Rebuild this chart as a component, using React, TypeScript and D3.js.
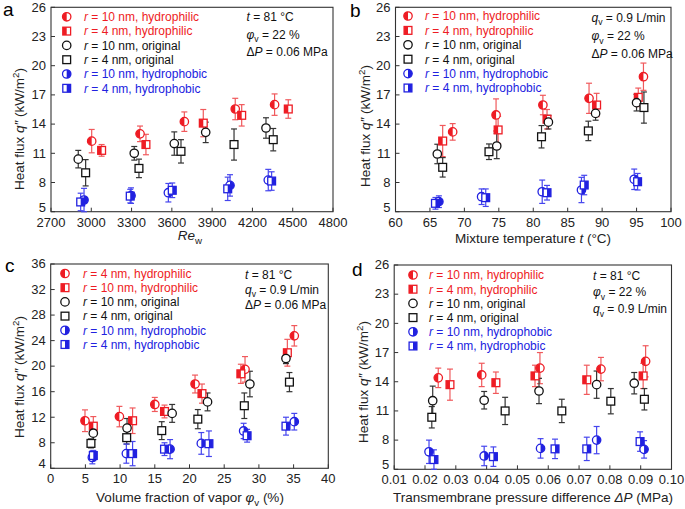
import React from "react";
import * as d3 from "d3";

// ---------- data: [x, y, errorHalfWidth] ----------
// panel a (x = Re_w)
const aR10Phil = [[3003, 12.25, 1.2], [3363, 13.0, 0.8], [3693, 14.25, 1.0], [4072, 15.55, 1.1], [4365, 16.0, 1.1]];
const aR4Phil = [[3077, 11.3, 0.6], [3407, 11.9, 1.05], [3834, 14.1, 1.4], [4120, 14.9, 1.1], [4467, 15.55, 0.95]];
const aR10Orig = [[2903, 10.4, 0.9], [3320, 11.0, 0.7], [3618, 12.0, 1.2], [3852, 13.15, 1.05], [4301, 13.6, 1.05]];
const aR4Orig = [[2958, 9.0, 1.35], [3355, 9.45, 0.95], [3668, 11.2, 1.2], [4063, 11.9, 1.6], [4355, 12.4, 1.15]];
const aR10Phob = [[2946, 6.2, 1.2], [3296, 6.65, 0.8], [3574, 6.95, 0.95], [4033, 7.7, 1.1], [4318, 8.25, 1.1]];
const aR4Phob = [[2921, 6.0, 0.9], [3290, 6.6, 0.7], [3603, 7.2, 0.75], [4016, 7.35, 1.2], [4343, 8.15, 0.95]];

// panel b (x = mixture temperature)
const bR10Phil = [[68.3, 13.2, 0.85], [74.6, 14.94, 1.65], [81.4, 15.96, 1.0], [88.1, 16.65, 1.55], [96.0, 18.87, 1.4]];
const bR4Phil = [[66.85, 12.26, 1.6], [74.9, 13.4, 1.4], [82.0, 14.5, 1.0], [89.2, 15.96, 1.2], [95.25, 16.75, 0.95]];
const bR10Orig = [[66.07, 10.93, 1.0], [74.7, 11.75, 1.3], [82.2, 14.2, 0.7], [89.05, 15.1, 0.7], [95.0, 16.2, 0.85]];
const bR4Orig = [[66.85, 9.56, 1.0], [73.57, 11.16, 0.8], [81.2, 12.7, 1.15], [88.0, 13.3, 1.0], [96.07, 15.7, 1.6]];
const bR10Phob = [[66.3, 6.03, 0.6], [72.5, 6.54, 0.8], [81.3, 7.05, 1.2], [87.0, 7.23, 1.3], [94.66, 8.33, 1.05]];
const bR4Phob = [[65.8, 5.86, 0.6], [73.1, 6.44, 0.9], [82.0, 6.95, 0.75], [87.4, 7.74, 1.0], [95.15, 8.08, 0.85]];

// panel c (x = volume fraction of vapor)
const cR4Phil = [[4.94, 11.45, 1.7], [9.9, 12.1, 1.6], [15.0, 14.0, 1.1], [20.8, 17.2, 1.4], [28.0, 19.5, 2.0], [35.1, 24.75, 1.6]];
const cR10Phil = [[6.14, 10.6, 1.5], [11.8, 11.45, 2.0], [16.4, 12.9, 1.0], [21.8, 15.7, 1.5], [27.4, 18.8, 1.5], [34.1, 22.1, 2.1]];
const cR10Orig = [[6.14, 9.5, 1.0], [11.0, 10.3, 1.5], [17.5, 12.6, 1.4], [22.6, 14.4, 1.4], [28.7, 17.2, 2.0], [33.9, 21.2, 0.8]];
const cR4Orig = [[5.8, 7.9, 0.7], [10.95, 8.8, 1.0], [16.0, 9.9, 1.4], [21.2, 11.7, 1.5], [27.9, 13.8, 2.0], [34.4, 17.5, 1.5]];
const cR10Phob = [[6.0, 5.7, 1.0], [10.9, 6.3, 1.5], [17.2, 7.0, 1.5], [21.7, 7.9, 1.7], [27.8, 9.85, 1.2], [35.1, 11.3, 1.3]];
const cR4Phob = [[6.14, 6.0, 0.8], [11.8, 6.3, 1.9], [16.4, 7.0, 1.0], [22.8, 7.85, 2.0], [28.3, 9.1, 1.0], [33.9, 10.6, 1.4]];

// panel d (x = transmembrane pressure difference)
const dR10Phil = [[0.0243, 14.4, 1.0], [0.0384, 14.7, 1.2], [0.0573, 15.4, 1.6], [0.0771, 15.3, 1.2], [0.0916, 16.1, 1.6]];
const dR4Phil = [[0.0281, 13.7, 1.6], [0.0430, 13.9, 1.1], [0.0557, 14.6, 1.1], [0.0725, 14.2, 1.5], [0.0908, 14.6, 1.3]];
const dR10Orig = [[0.0225, 12.05, 1.5], [0.0392, 12.1, 0.9], [0.0570, 13.05, 1.3], [0.0757, 13.7, 1.4], [0.0879, 13.85, 1.1]];
const dR4Orig = [[0.0222, 10.35, 1.1], [0.0460, 11.0, 1.4], [0.0644, 11.0, 1.2], [0.0803, 12.0, 1.3], [0.0912, 12.2, 1.1]];
const dR10Phob = [[0.0213, 6.8, 1.2], [0.0392, 6.37, 1.0], [0.0575, 7.15, 1.0], [0.0757, 8.0, 1.4], [0.0911, 7.05, 0.9]];
const dR4Phob = [[0.0229, 6.0, 1.0], [0.0422, 6.3, 1.0], [0.0622, 7.1, 1.0], [0.0725, 7.1, 1.2], [0.0898, 7.85, 1.0]];

// ticks
const aXTicks = [2700, 3000, 3300, 3600, 3900, 4200, 4500, 4800];
const bXTicks = [60, 65, 70, 75, 80, 85, 90, 95, 100];
const cXTicks = [0, 5, 10, 15, 20, 25, 30, 35, 40];
const dXTicks = [0.01, 0.02, 0.03, 0.04, 0.05, 0.06, 0.07, 0.08, 0.09, 0.1];
const qYTicks = [5, 8, 11, 14, 17, 20, 23, 26];
const cYTicks = [4, 8, 12, 16, 20, 24, 28, 32, 36];

// ---------- styles ----------
const FONT = "'Liberation Sans', Arial, Helvetica, sans-serif";
const RED = "#ee1c24";
const RED_BAR = "#f0595c";
const BLUE = "#2121e0";
const BLUE_BAR = "#4545ee";
const BLACK = "#111";
const BLACK_BAR = "#333";

type Seg = [string, string?];

function Rich({ segs, ...props }: any) {
  let shift = 0;
  const out = segs.map((s: Seg, k: number) => {
    const [t, st] = s;
    const target = st === "sub" ? 3.5 : st === "sup" ? -5 : 0;
    const dy = target - shift;
    shift = target;
    return (
      <tspan
        key={k}
        dy={dy !== 0 ? dy : undefined}
        fontStyle={st === "i" ? "italic" : undefined}
        fontSize={st === "sub" || st === "sup" ? "0.72em" : undefined}
      >
        {t}
      </tspan>
    );
  });
  return <text {...props}>{out}</text>;
}

function Marker({ shape, color, half, x, y }: any) {
  const r = 4.2;
  const s = 3.9;
  if (shape === "circle") {
    const d =
      half === "left"
        ? `M${x},${y - r} A${r},${r} 0 0 0 ${x},${y + r} Z`
        : `M${x},${y - r} A${r},${r} 0 0 1 ${x},${y + r} Z`;
    return (
      <g>
        <circle cx={x} cy={y} r={r} fill="white" stroke={color} strokeWidth={1.3} />
        {half !== "none" && <path d={d} fill={color} />}
      </g>
    );
  }
  const hx = half === "left" ? x - s : x;
  return (
    <g>
      <rect x={x - s} y={y - s} width={2 * s} height={2 * s} fill="white" stroke={color} strokeWidth={1.3} />
      {half !== "none" && <rect x={hx} y={y - s} width={s} height={2 * s} fill={color} />}
    </g>
  );
}

const rLabel = (size: string, kind: string): Seg[] => [["r", "i"], [` = ${size} nm, ${kind}`]];

const yTitleSegs: Seg[] = [["Heat flux "], ["q", "i"], ["\u2033", "i"], [" (kW/m"], ["2", "sup"], [")"]];
const phiV: Seg[] = [["\u03c6", "i"], ["v", "sub"], [" = 22 %"]];
const tC: Seg[] = [["t", "i"], [" = 81 \u00b0C"]];
const dP: Seg[] = [["\u0394"], ["P", "i"], [" = 0.06 MPa"]];
const qV: Seg[] = [["q", "i"], ["v", "sub"], [" = 0.9 L/min"]];

const mk = (data: number[][], shape: string, color: string, bar: string, half: string, label: Seg[]) => ({
  data, shape, color, bar, half, label,
});

const panels = [
  {
    letter: "a", lx: 3, ly: 16,
    xDomain: [2700, 4800], xr: [51, 333], yDomain: [5, 26], yr: [211.7, 7.3],
    xTicks: aXTicks, yTicks: qYTicks, fmt: d3.format("d"),
    xTitle: [["Re", "i"], ["w", "sub"]] as Seg[], xTitleX: 190, xTitleY: 240,
    yTitleX: 24, yTitleY: 129,
    legX: 66.7, legTextX: 84, legY: 16.8, legDy: 14.3,
    condX: 246.5, condY: [21, 38.5, 56], conds: [tC, phiV, dP],
    series: [
      mk(aR10Phil, "circle", RED, RED_BAR, "left", rLabel("10", "hydrophilic")),
      mk(aR4Phil, "square", RED, RED_BAR, "left", rLabel("4", "hydrophilic")),
      mk(aR10Orig, "circle", BLACK, BLACK_BAR, "none", rLabel("10", "original")),
      mk(aR4Orig, "square", BLACK, BLACK_BAR, "none", rLabel("4", "original")),
      mk(aR10Phob, "circle", BLUE, BLUE_BAR, "right", rLabel("10", "hydrophobic")),
      mk(aR4Phob, "square", BLUE, BLUE_BAR, "right", rLabel("4", "hydrophobic")),
    ],
  },
  {
    letter: "b", lx: 350, ly: 16.5,
    xDomain: [60, 100], xr: [395.5, 671], yDomain: [5, 26], yr: [211.7, 7.3],
    xTicks: bXTicks, yTicks: qYTicks, fmt: d3.format("d"),
    xTitle: [["Mixture temperature "], ["t", "i"], [" (\u00b0C)"]] as Seg[], xTitleX: 533, xTitleY: 243,
    yTitleX: 370, yTitleY: 126,
    legX: 408, legTextX: 425, legY: 16, legDy: 14.4,
    condX: 591.5, condY: [21.5, 40, 57.5], conds: [qV, phiV, dP],
    series: [
      mk(bR10Phil, "circle", RED, RED_BAR, "left", rLabel("10", "hydrophilic")),
      mk(bR4Phil, "square", RED, RED_BAR, "left", rLabel("4", "hydrophilic")),
      mk(bR10Orig, "circle", BLACK, BLACK_BAR, "none", rLabel("10", "original")),
      mk(bR4Orig, "square", BLACK, BLACK_BAR, "none", rLabel("4", "original")),
      mk(bR10Phob, "circle", BLUE, BLUE_BAR, "right", rLabel("10", "hydrophobic")),
      mk(bR4Phob, "square", BLUE, BLUE_BAR, "right", rLabel("4", "hydrophobic")),
    ],
  },
  {
    letter: "c", lx: 5, ly: 272,
    xDomain: [0, 40], xr: [50.7, 328.3], yDomain: [4, 36], yr: [468.3, 264],
    xTicks: cXTicks, yTicks: cYTicks, fmt: d3.format("d"),
    xTitle: [["Volume fraction of vapor "], ["\u03c6", "i"], ["v", "sub"], [" (%)"]] as Seg[], xTitleX: 190, xTitleY: 502,
    yTitleX: 24, yTitleY: 377,
    legX: 65, legTextX: 83, legY: 273.5, legDy: 14.2,
    condX: 245, condY: [278.5, 293.5, 308.5], conds: [tC, qV, dP],
    series: [
      mk(cR4Phil, "circle", RED, RED_BAR, "left", rLabel("4", "hydrophilic")),
      mk(cR10Phil, "square", RED, RED_BAR, "left", rLabel("10", "hydrophilic")),
      mk(cR10Orig, "circle", BLACK, BLACK_BAR, "none", rLabel("10", "original")),
      mk(cR4Orig, "square", BLACK, BLACK_BAR, "none", rLabel("4", "original")),
      mk(cR10Phob, "circle", BLUE, BLUE_BAR, "right", rLabel("10", "hydrophobic")),
      mk(cR4Phob, "square", BLUE, BLUE_BAR, "right", rLabel("4", "hydrophobic")),
    ],
  },
  {
    letter: "d", lx: 352, ly: 276,
    xDomain: [0.01, 0.1], xr: [394.2, 671.5], yDomain: [5, 26], yr: [469.3, 265],
    xTicks: dXTicks, yTicks: qYTicks, fmt: d3.format(".2f"),
    xTitle: [["Transmembrane pressure difference "], ["\u0394P", "i"], [" (MPa)"]] as Seg[], xTitleX: 533, xTitleY: 502,
    yTitleX: 368, yTitleY: 382,
    legX: 413, legTextX: 429, legY: 275, legDy: 14.2,
    condX: 593, condY: [280, 296, 313], conds: [tC, phiV, qV],
    series: [
      mk(dR10Phil, "circle", RED, RED_BAR, "left", rLabel("10", "hydrophilic")),
      mk(dR4Phil, "square", RED, RED_BAR, "left", rLabel("4", "hydrophilic")),
      mk(dR10Orig, "circle", BLACK, BLACK_BAR, "none", rLabel("10", "original")),
      mk(dR4Orig, "square", BLACK, BLACK_BAR, "none", rLabel("4", "original")),
      mk(dR10Phob, "circle", BLUE, BLUE_BAR, "right", rLabel("10", "hydrophobic")),
      mk(dR4Phob, "square", BLUE, BLUE_BAR, "right", rLabel("4", "hydrophobic")),
    ],
  },
];

function Panel({ p }: any) {
  const x = d3.scaleLinear().domain(p.xDomain).range(p.xr);
  const y = d3.scaleLinear().domain(p.yDomain).range(p.yr);
  const [x0, x1] = p.xr;
  const [y0, y1] = p.yr;
  const tl = 4;
  return (
    <g fontFamily={FONT}>
      <text x={p.lx} y={p.ly} fontSize={19} fill="#000">{p.letter}</text>
      {/* ticks */}
      {p.yTicks.map((t: number, i: number) => (
        <g key={"y" + t}>
          <line x1={x0} x2={x0 + tl} y1={y(t)} y2={y(t)} stroke="#333" strokeWidth={1} />
          <text x={x0 - 5} y={y(t) + (i === 0 ? 0 : 4.3)} fontSize={13} textAnchor="end" fill="#222">{t}</text>
        </g>
      ))}
      {p.xTicks.map((t: number) => (
        <g key={"x" + t}>
          <line x1={x(t)} x2={x(t)} y1={y0} y2={y0 - tl} stroke="#333" strokeWidth={1} />
          <text x={x(t)} y={y0 + 15} fontSize={13} textAnchor="middle" fill="#222">{p.fmt(t)}</text>
        </g>
      ))}
      <rect x={x0} y={y1} width={x1 - x0} height={y0 - y1} fill="none" stroke="#333" strokeWidth={1.1} />
      {/* titles */}
      <Rich segs={p.xTitle} x={p.xTitleX} y={p.xTitleY} fontSize={13.5} textAnchor="middle" fill="#222" />
      <Rich
        segs={yTitleSegs}
        transform={`translate(${p.yTitleX},${p.yTitleY}) rotate(-90)`}
        fontSize={13.5}
        textAnchor="middle"
        fill="#222"
      />
      {/* legend */}
      {p.series.map((s: any, i: number) => (
        <g key={"l" + i}>
          <Marker shape={s.shape} color={s.color} half={s.half} x={p.legX} y={p.legY + i * p.legDy} />
          <Rich segs={s.label} x={p.legTextX} y={p.legY + i * p.legDy + 4.3} fontSize={12} fill={s.color === BLACK ? "#111" : s.color} />
        </g>
      ))}
      {/* conditions */}
      {p.conds.map((c: Seg[], i: number) => (
        <Rich key={"c" + i} segs={c} x={p.condX} y={p.condY[i]} fontSize={12} fill="#111" />
      ))}
      {/* error bars */}
      {p.series.map((s: any, i: number) => (
        <g key={"e" + i} stroke={s.bar} strokeWidth={1.2}>
          {s.data.map((d: number[], j: number) => (
            <g key={j}>
              <line x1={x(d[0])} x2={x(d[0])} y1={y(d[1] - d[2])} y2={y(d[1] + d[2])} />
              <line x1={x(d[0]) - 3} x2={x(d[0]) + 3} y1={y(d[1] - d[2])} y2={y(d[1] - d[2])} />
              <line x1={x(d[0]) - 3} x2={x(d[0]) + 3} y1={y(d[1] + d[2])} y2={y(d[1] + d[2])} />
            </g>
          ))}
        </g>
      ))}
      {/* markers */}
      {p.series.map((s: any, i: number) => (
        <g key={"m" + i}>
          {s.data.map((d: number[], j: number) => (
            <Marker key={j} shape={s.shape} color={s.color} half={s.half} x={x(d[0])} y={y(d[1])} />
          ))}
        </g>
      ))}
    </g>
  );
}

export default function App() {
  return (
    <svg
      width={685}
      height={509}
      viewBox="0 0 685 509"
      style={{ position: "absolute", left: 0, top: 0, background: "white" }}
    >
      <rect width={685} height={509} fill="white" />
      {panels.map((p) => (
        <Panel key={p.letter} p={p} />
      ))}
    </svg>
  );
}
